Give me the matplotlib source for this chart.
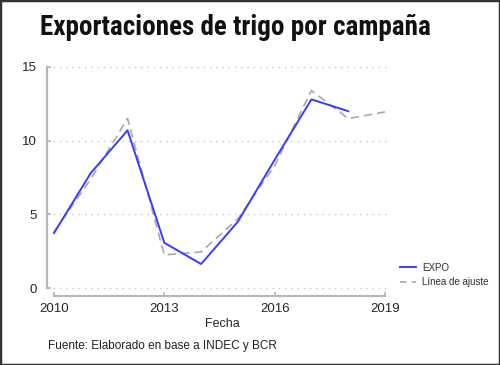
import matplotlib
matplotlib.use("Agg")
import matplotlib.pyplot as plt
from matplotlib.lines import Line2D
from matplotlib.patches import Rectangle

years = [2010, 2011, 2012, 2013, 2014, 2015, 2016, 2017, 2018]
expo = [3.73, 7.8, 10.7, 3.07, 1.63, 4.5, 8.7, 12.8, 12.0]
fit_years = [2010, 2011, 2012, 2013, 2014, 2015, 2016, 2017, 2018, 2019]
fit = [3.8, 7.4, 11.5, 2.25, 2.45, 4.7, 8.3, 13.4, 11.5, 11.95]
xticks = [2010, 2013, 2016, 2019]
yticks = [0, 5, 10, 15]

W, H = 500, 365
fig = plt.figure(figsize=(5, 3.65), dpi=100)
plt.rcParams['font.family'] = ['Liberation Sans', 'DejaVu Sans']

ax_l, ax_r, ax_b, ax_t = 47, 390, 296, 64
ax = fig.add_axes([ax_l / W, (H - ax_b) / H, (ax_r - ax_l) / W, (ax_b - ax_t) / H])
ax.set_xlim(2009.81, 2019.136)
ax.set_ylim(-0.54, 15.2)

for y in yticks:
    ax.axhline(y, color='#c4c4c4', lw=1.0, ls=(0, (1, 3.5)), zorder=1)

ax.plot(fit_years, fit, color='#a8a8a8', lw=1.2, ls=(0, (5, 3)), zorder=2)
ax.plot(years, expo, color='#3b3bff', lw=1.4, zorder=3)

for s in ['top', 'right']:
    ax.spines[s].set_visible(False)
ax.spines['left'].set_bounds(0, 15)
ax.spines['bottom'].set_bounds(2010, 2019)
for s in ['left', 'bottom']:
    ax.spines[s].set_color('#b8b8b8')
    ax.spines[s].set_linewidth(1.6)
ax.set_xticks(xticks)
ax.set_yticks(yticks)
ax.tick_params(direction='in', length=3, width=1.2, color='#b8b8b8',
               labelsize=9.5, labelcolor='#262626')
ax.tick_params(axis='x', pad=5)
ax.tick_params(axis='y', pad=7)
ax.set_facecolor('none')

fig.text(222 / W, 1 - 324 / H, 'Fecha', ha='center', va='center', fontsize=9, color='#262626')
fig.text(48 / W, 1 - 346 / H, 'Fuente: Elaborado en base a INDEC y BCR', ha='left', va='center',
         fontsize=8.5, color='#202020')
fig.text(40 / W, 1 - 35 / H, 'Exportaciones de trigo por campaña', ha='left', va='baseline',
         fontsize=19.5, fontweight='bold', color='#111111',
         family=['Roboto Condensed', 'DejaVu Sans'])

handles = [Line2D([], [], color='#3b3bff', lw=1.4),
           Line2D([], [], color='#a8a8a8', lw=1.2, ls=(0, (4, 3)))]
fig.legend(handles, ['EXPO', 'Línea de ajuste'], loc='center left',
           bbox_to_anchor=(400 / W, 1 - 275 / H), frameon=False, fontsize=7,
           handlelength=1.6, handletextpad=0.7, labelspacing=0.45, borderpad=0,
           borderaxespad=0, labelcolor='#303030')

fig.patches.append(Rectangle((0, 0), 1, 1, transform=fig.transFigure, fill=False,
                             edgecolor='#333333', lw=2.5))

fig.savefig('out.png', dpi=100)
